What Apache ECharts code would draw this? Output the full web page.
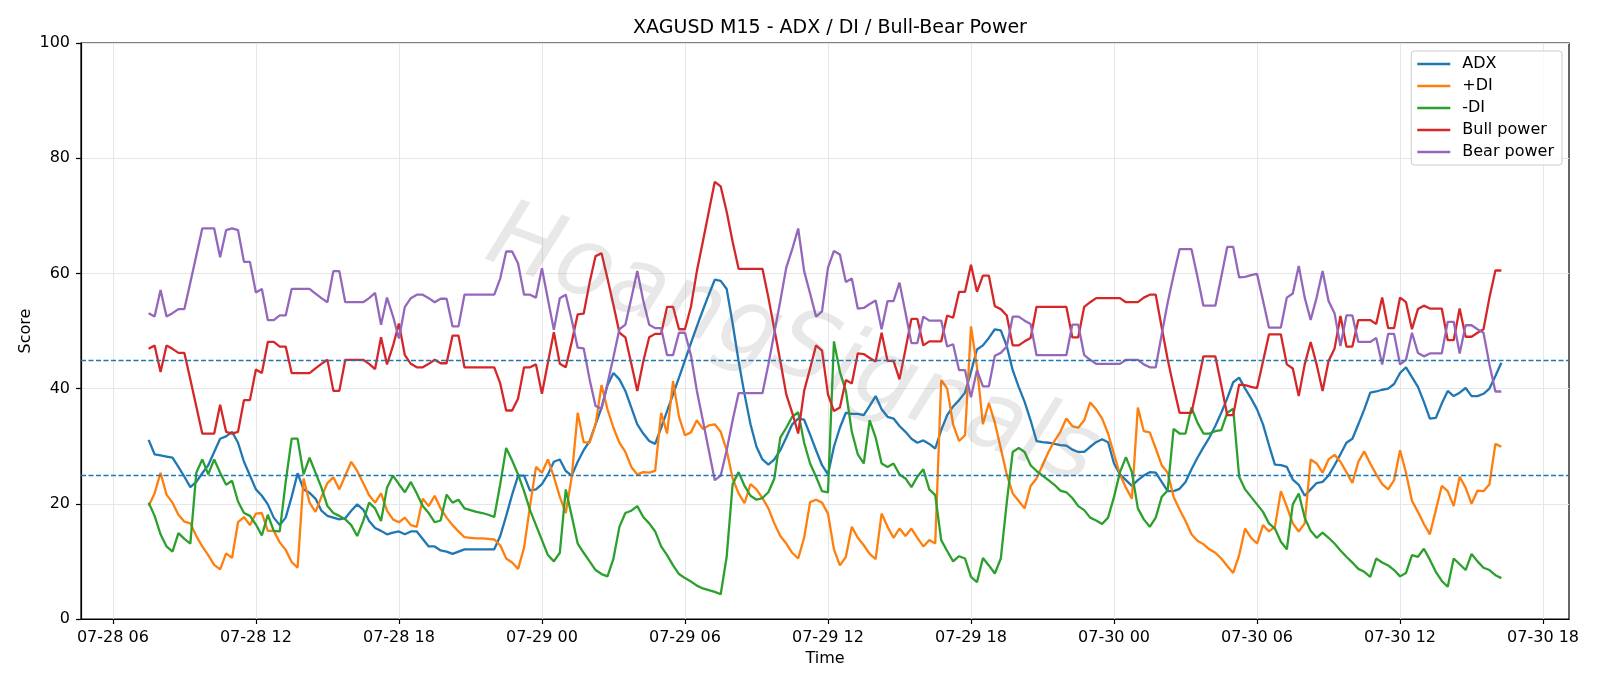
<!DOCTYPE html>
<html>
<head>
<meta charset="utf-8">
<title>XAGUSD M15 - ADX / DI / Bull-Bear Power</title>
<script src="https://cdn.jsdelivr.net/npm/echarts@6.0.0/dist/echarts.min.js"></script>
<style>
  html, body { margin: 0; padding: 0; background: #fff; }
  #chart { width: 1600px; height: 686px; }
</style>
</head>
<body>
<div id="chart"></div>
<script>
  // time axis: hours counted from 07-28 00:00, one bar = 15 minutes
  const startHour = 7.5
  const stepHour = 0.25
  const tickHours = [6, 12, 18, 24, 30, 36, 42, 48, 54, 60, 66]
  const tickLabels = ['07-28 06', '07-28 12', '07-28 18', '07-29 00', '07-29 06', '07-29 12',
    '07-29 18', '07-30 00', '07-30 06', '07-30 12', '07-30 18']
  const yTicks = [0, 20, 40, 60, 80, 100]
  const levels = [25, 45]

  const adx = [
    31.1, 28.6, 28.4, 28.2, 28.0, 26.4, 24.7, 22.9, 23.8, 25.3, 26.7, 29.0, 31.3, 31.7, 32.5, 30.6, 27.3, 24.9, 22.5, 21.4,
    19.9, 17.6, 16.3, 17.6, 21.2, 25.3, 22.5, 21.9, 20.9, 18.8, 17.9, 17.6, 17.3, 17.5, 18.8, 19.9, 19.0, 17.0,
    15.8, 15.3, 14.7, 15.0, 15.2, 14.7, 15.2, 15.2, 13.9, 12.6, 12.6, 11.9, 11.7, 11.3, 11.7, 12.1, 12.1, 12.1, 12.1, 12.1,
    12.1, 14.4, 17.9, 21.6, 24.9, 24.9, 22.3, 22.5, 23.4, 25.1, 27.3, 27.7, 25.7, 24.9, 27.3, 29.3, 30.9, 33.8, 36.7,
    40.6, 42.7, 41.6, 39.6, 36.7, 33.8, 32.2, 30.9, 30.4, 33.2, 36.1, 39.0, 41.9, 44.9, 47.9, 50.8, 53.6, 56.3, 58.9, 58.7,
    57.3, 51.3, 44.8, 39.0, 33.8, 29.9, 27.7, 26.8, 27.7, 29.3, 31.5, 33.8, 34.8, 34.6, 32.0, 29.3, 26.7, 25.1,
    29.9, 33.2, 35.8, 35.6, 35.6, 35.4, 37.0, 38.7, 36.4, 35.1, 34.8, 33.5, 32.5, 31.3, 30.6, 31.0, 30.4, 29.6, 32.8, 35.4,
    36.9, 38.0, 39.3, 42.9, 46.8, 47.5, 48.8, 50.3, 50.1, 47.4, 43.2, 40.3, 37.7, 34.5, 30.9, 30.7, 30.6, 30.4, 30.2,
    30.1, 29.4, 29.0, 29.0, 29.9, 30.7, 31.2, 30.7, 27.0, 25.1, 24.1, 23.1, 24.1, 24.9, 25.5, 25.4, 23.8, 22.2, 22.2, 22.6,
    23.8, 26.0, 28.0, 29.8, 31.5, 33.5, 35.8, 38.3, 41.1, 41.9, 40.0, 38.3, 36.4, 33.8, 30.2, 26.8, 26.7,
    26.4, 24.2, 23.3, 21.4, 22.5, 23.6, 23.8, 24.9, 26.7, 28.6, 30.6, 31.3, 33.8, 36.4, 39.3, 39.5, 39.8, 40.0, 40.8, 42.7,
    43.7, 42.0, 40.3, 37.7, 34.8, 34.9, 37.4, 39.6, 38.7, 39.3, 40.1, 38.7, 38.7, 39.1, 40.0, 42.2, 44.5
  ]
  const plusDi = [
    19.6, 21.8, 25.4, 21.6, 20.2, 18.1, 16.9, 16.6, 14.4, 12.6, 11.1, 9.4, 8.6, 11.4, 10.6, 16.8, 17.7, 16.3, 18.3, 18.4,
    15.3, 15.3, 13.3, 12.0, 9.9, 8.9, 24.4, 20.2, 18.6, 21.2, 23.6, 24.6, 22.5, 24.9, 27.3, 25.7, 23.6, 21.5,
    20.2, 21.8, 18.8, 17.3, 16.8, 17.6, 16.3, 16.0, 20.9, 19.6, 21.4, 19.2, 17.6, 16.3, 15.2, 14.2, 14.1, 14.0, 14.0, 13.9,
    13.8, 12.8, 10.5, 9.8, 8.7, 12.4, 19.6, 26.4, 25.4, 27.7, 24.7, 21.2, 18.4, 24.7, 35.8, 30.7, 30.6, 33.8, 40.6,
    36.4, 33.2, 30.6, 29.0, 26.4, 25.1, 25.5, 25.4, 25.7, 35.8, 32.2, 41.3, 35.1, 31.9, 32.4, 34.5, 33.0, 33.6, 33.8, 32.5,
    29.3, 24.4, 21.8, 20.1, 23.4, 22.5, 21.0, 19.2, 16.6, 14.4, 13.1, 11.5, 10.5, 14.1, 20.3, 20.7, 20.2, 18.3,
    12.1, 9.3, 10.8, 16.0, 14.1, 12.8, 11.3, 10.4, 18.3, 16.0, 14.1, 15.7, 14.4, 15.7, 14.1, 12.6, 13.7, 13.1, 41.5, 40.0,
    33.8, 30.9, 31.9, 50.8, 43.8, 33.8, 37.5, 34.1, 29.6, 25.1, 21.8, 20.5, 19.2, 23.1, 24.4, 26.7, 29.0, 30.9, 32.5,
    34.8, 33.5, 33.2, 34.5, 37.6, 36.4, 34.8, 32.2, 28.6, 25.1, 22.8, 20.9, 36.7, 32.6, 32.4, 29.6, 26.7, 25.4, 21.2, 19.0,
    17.0, 14.7, 13.6, 13.0, 12.1, 11.5, 10.5, 9.2, 8.0, 11.1, 15.7, 14.1, 13.1, 16.3, 15.2, 16.0, 22.2,
    19.5, 16.6, 15.2, 16.6, 27.7, 27.0, 25.4, 27.7, 28.5, 27.3, 25.5, 23.6, 27.3, 29.1, 27.0, 25.1, 23.4, 22.5, 24.1, 29.3,
    25.4, 20.5, 18.6, 16.5, 14.7, 18.9, 23.1, 22.2, 19.6, 24.7, 22.8, 20.0, 22.3, 22.2, 23.4, 30.4, 29.9
  ]
  const minusDi = [
    20.2, 17.9, 14.7, 12.6, 11.7, 14.9, 13.9, 13.1, 25.4, 27.7, 25.1, 27.7, 25.4, 23.3, 24.0, 20.4, 18.4, 17.9, 16.4, 14.5,
    18.1, 15.3, 15.2, 23.8, 31.3, 31.3, 25.1, 28.0, 25.4, 22.8, 19.6, 18.4, 17.9, 17.3, 16.3, 14.4, 17.0, 20.2,
    19.2, 17.0, 22.8, 24.9, 23.4, 22.0, 23.8, 21.8, 19.6, 18.4, 16.8, 17.1, 21.6, 20.2, 20.7, 19.2, 18.9, 18.6, 18.4, 18.1,
    17.7, 23.4, 29.7, 27.5, 25.1, 22.2, 18.9, 16.3, 13.7, 11.1, 10.0, 11.5, 22.5, 17.9, 13.1, 11.5, 10.0, 8.5, 7.8,
    7.4, 10.5, 16.0, 18.4, 18.8, 19.6, 17.7, 16.6, 15.2, 12.6, 11.1, 9.3, 7.8, 7.1, 6.5, 5.8, 5.3, 5.0, 4.7, 4.3,
    10.8, 23.4, 25.5, 23.1, 21.4, 20.7, 21.0, 22.0, 24.4, 31.5, 33.2, 35.1, 35.9, 30.6, 27.0, 24.7, 22.2, 22.0,
    48.2, 42.9, 39.6, 32.5, 28.6, 27.0, 34.5, 31.5, 27.0, 26.4, 27.0, 25.1, 24.4, 22.9, 24.7, 26.0, 22.5, 21.5, 13.7, 11.8,
    10.0, 10.9, 10.5, 7.3, 6.4, 10.6, 9.3, 7.9, 10.5, 20.2, 29.0, 29.7, 29.0, 26.7, 25.7, 24.9, 24.1, 23.3, 22.3,
    22.0, 21.0, 19.6, 18.9, 17.6, 17.1, 16.5, 17.6, 21.2, 25.5, 28.1, 25.5, 19.2, 17.3, 16.0, 17.6, 21.2, 22.3, 33.0, 32.2,
    32.2, 36.7, 34.1, 32.2, 32.2, 32.6, 32.8, 35.8, 36.5, 24.7, 22.5, 21.2, 19.9, 18.6, 16.6, 15.7, 13.4,
    12.1, 19.9, 21.8, 17.6, 15.3, 14.1, 15.0, 14.1, 13.1, 11.9, 10.8, 9.8, 8.7, 8.2, 7.3, 10.5, 9.8, 9.3, 8.5, 7.4,
    8.0, 11.1, 10.8, 12.2, 10.3, 8.2, 6.6, 5.6, 10.5, 9.5, 8.5, 11.3, 10.0, 8.9, 8.5, 7.6, 7.1
  ]
  const bullPower = [
    46.9, 47.5, 42.9, 47.5, 46.9, 46.2, 46.2, 41.6, 36.9, 32.2, 32.2, 32.2, 37.2, 32.5, 32.2, 32.5, 38.0, 38.0, 43.3, 42.7,
    48.1, 48.1, 47.3, 47.3, 42.7, 42.7, 42.7, 42.7, 43.5, 44.3, 45.0, 39.6, 39.6, 45.0, 45.0, 45.0, 45.0, 44.3,
    43.4, 48.9, 44.2, 47.4, 51.3, 45.8, 44.3, 43.7, 43.7, 44.3, 45.0, 44.4, 44.4, 49.2, 49.2, 43.7, 43.7, 43.7, 43.7, 43.7,
    43.7, 40.9, 36.2, 36.2, 38.3, 43.7, 43.7, 44.2, 39.1, 44.5, 49.8, 44.3, 43.7, 48.1, 52.9, 53.0, 58.4, 63.0, 63.5,
    59.1, 54.5, 49.7, 48.9, 44.3, 39.6, 44.7, 48.9, 49.5, 49.5, 54.2, 54.2, 50.3, 50.3, 54.2, 60.4, 65.5, 70.7, 75.9, 75.1,
    70.7, 65.5, 60.8, 60.8, 60.8, 60.8, 60.8, 55.8, 50.3, 44.8, 39.0, 35.8, 32.2, 39.6, 43.5, 47.5, 46.6, 39.0,
    36.1, 36.7, 41.5, 40.9, 46.1, 46.0, 45.3, 44.7, 49.7, 44.8, 44.8, 41.6, 46.8, 52.1, 52.1, 47.5, 48.2, 48.2, 48.2, 52.7,
    52.3, 56.8, 56.8, 61.5, 56.8, 59.6, 59.6, 54.3, 53.8, 52.7, 47.5, 47.5, 48.2, 48.8, 54.2, 54.2, 54.2, 54.2, 54.2,
    54.2, 48.9, 48.9, 54.2, 55.0, 55.7, 55.7, 55.7, 55.7, 55.7, 55.0, 55.0, 55.0, 55.8, 56.3, 56.3, 50.6, 45.1, 40.3, 35.8,
    35.8, 35.8, 40.6, 45.6, 45.6, 45.6, 40.6, 35.4, 35.4, 40.7, 40.6, 40.3, 40.1, 44.7, 49.4, 49.4, 49.4,
    44.2, 43.5, 38.7, 44.2, 48.1, 44.2, 39.6, 44.8, 46.9, 52.6, 47.3, 47.3, 51.9, 51.9, 51.9, 51.2, 55.8, 50.5, 50.5, 55.8,
    55.0, 50.3, 53.8, 54.4, 53.9, 53.9, 53.9, 48.4, 48.4, 53.9, 49.0, 49.0, 49.7, 50.3, 55.8, 60.5, 60.5
  ]
  const bearPower = [
    53.1, 52.5, 57.1, 52.5, 53.1, 53.8, 53.8, 58.4, 63.1, 67.8, 67.8, 67.8, 62.8, 67.5, 67.8, 67.5, 62.0, 62.0, 56.7, 57.3,
    51.9, 51.9, 52.7, 52.7, 57.3, 57.3, 57.3, 57.3, 56.5, 55.7, 55.0, 60.4, 60.4, 55.0, 55.0, 55.0, 55.0, 55.7,
    56.6, 51.1, 55.8, 52.6, 48.7, 54.2, 55.7, 56.3, 56.3, 55.7, 55.0, 55.6, 55.6, 50.8, 50.8, 56.3, 56.3, 56.3, 56.3, 56.3,
    56.3, 59.1, 63.8, 63.8, 61.7, 56.3, 56.3, 55.8, 60.9, 55.5, 50.2, 55.7, 56.3, 51.9, 47.1, 47.0, 41.6, 37.0, 36.5,
    40.9, 45.5, 50.3, 51.1, 55.7, 60.4, 55.3, 51.1, 50.5, 50.5, 45.8, 45.8, 49.7, 49.7, 45.8, 39.6, 34.5, 29.3, 24.1, 24.9,
    29.3, 34.5, 39.2, 39.2, 39.2, 39.2, 39.2, 44.2, 49.7, 55.2, 61.0, 64.2, 67.8, 60.4, 56.5, 52.5, 53.4, 61.0,
    63.9, 63.3, 58.5, 59.1, 53.9, 54.0, 54.7, 55.3, 50.3, 55.2, 55.2, 58.4, 53.2, 47.9, 47.9, 52.5, 51.8, 51.8, 51.8, 47.3,
    47.7, 43.2, 43.2, 38.5, 43.2, 40.4, 40.4, 45.7, 46.2, 47.3, 52.5, 52.5, 51.8, 51.2, 45.8, 45.8, 45.8, 45.8, 45.8,
    45.8, 51.1, 51.1, 45.8, 45.0, 44.3, 44.3, 44.3, 44.3, 44.3, 45.0, 45.0, 45.0, 44.2, 43.7, 43.7, 49.4, 54.9, 59.7, 64.2,
    64.2, 64.2, 59.4, 54.4, 54.4, 54.4, 59.4, 64.6, 64.6, 59.3, 59.4, 59.7, 59.9, 55.3, 50.6, 50.6, 50.6,
    55.8, 56.5, 61.3, 55.8, 51.9, 55.8, 60.4, 55.2, 53.1, 47.4, 52.7, 52.7, 48.1, 48.1, 48.1, 48.8, 44.2, 49.5, 49.5, 44.2,
    45.0, 49.7, 46.2, 45.6, 46.1, 46.1, 46.1, 51.6, 51.6, 46.1, 51.0, 51.0, 50.3, 49.7, 44.2, 39.5, 39.5
  ]

  const times = adx.map((v, i) => startHour + i * stepHour)
  const span = times[times.length - 1] - times[0]
  const font = 'DejaVu Sans'
  const colors = ['#1f77b4', '#ff7f0e', '#2ca02c', '#d62728', '#9467bd']

  function pairs (vals) {
    return vals.map((v, i) => [times[i], v])
  }

  function lineSeries (name, vals, color) {
    return {
      name: name,
      type: 'line',
      symbol: 'none',
      data: pairs(vals),
      lineStyle: { width: 2.3, color: color },
      itemStyle: { color: color },
      emphasis: { disabled: true }
    }
  }

  const chart = echarts.init(document.getElementById('chart'))
  const series = [
    lineSeries('ADX', adx, colors[0]),
    lineSeries('+DI', plusDi, colors[1]),
    lineSeries('-DI', minusDi, colors[2]),
    lineSeries('Bull power', bullPower, colors[3]),
    lineSeries('Bear power', bearPower, colors[4])
  ]
  // 25 / 45 reference levels
  series[0].markLine = {
    silent: true,
    symbol: ['none', 'none'],
    label: { show: false },
    lineStyle: { color: '#1f77b4', type: [5, 2.5], width: 1.3 },
    data: levels.map(l => ({ yAxis: l }))
  }

  chart.setOption({
    animation: false,
    backgroundColor: '#ffffff',
    textStyle: { fontFamily: font },
    title: {
      text: 'XAGUSD M15 - ADX / DI / Bull-Bear Power',
      left: 825,
      textAlign: 'center',
      top: 14,
      textStyle: { fontFamily: font, fontSize: 19, fontWeight: 'normal', color: '#000' }
    },
    grid: {
      left: 81,
      right: 31,
      top: 43,
      bottom: 67,
      show: true,
      borderColor: '#000',
      borderWidth: 1.2
    },
    legend: {
      orient: 'vertical',
      right: 38,
      top: 51,
      icon: 'rect',
      itemWidth: 33,
      itemHeight: 2.4,
      itemGap: 6,
      padding: [5, 8, 5, 6],
      backgroundColor: 'rgba(255,255,255,0.8)',
      borderColor: '#cccccc',
      borderWidth: 1,
      borderRadius: 3,
      textStyle: { fontFamily: font, fontSize: 16, color: '#000', padding: [0, 0, 0, 7] },
      data: ['ADX', '+DI', '-DI', 'Bull power', 'Bear power']
    },
    xAxis: {
      type: 'value',
      min: times[0] - span * 0.05,
      max: times[times.length - 1] + span * 0.05,
      name: 'Time',
      nameLocation: 'middle',
      nameGap: 29,
      nameTextStyle: { fontFamily: font, fontSize: 16, color: '#000' },
      axisLine: { show: true, lineStyle: { color: '#000', width: 1.2 } },
      axisTick: { show: true, length: 5, customValues: tickHours, lineStyle: { color: '#000', width: 1.2 } },
      axisLabel: {
        customValues: tickHours,
        margin: 11,
        fontFamily: font,
        fontSize: 16,
        color: '#000',
        formatter: v => tickLabels[tickHours.indexOf(Math.round(v))]
      },
      splitLine: { show: true, lineStyle: { color: '#e6e6e6', width: 1 } }
    },
    yAxis: {
      type: 'value',
      min: yTicks[0],
      max: yTicks[yTicks.length - 1],
      interval: 20,
      name: 'Score',
      nameLocation: 'middle',
      nameGap: 47,
      nameMoveOverlap: false,
      nameTextStyle: { fontFamily: font, fontSize: 16, color: '#000' },
      axisLine: { show: true, lineStyle: { color: '#000', width: 1.2 } },
      axisTick: { show: true, length: 5, lineStyle: { color: '#000', width: 1.2 } },
      axisLabel: { margin: 11, fontFamily: font, fontSize: 16, color: '#000' },
      splitLine: { show: true, lineStyle: { color: '#e6e6e6', width: 1 } }
    },
    graphic: [{
      type: 'text',
      x: 792,
      y: 348,
      rotation: -0.36,
      silent: true,
      z: 100,
      style: {
        text: 'HoangSignals',
        fontFamily: "'DejaVu Sans ExtraLight', 'DejaVu Sans'",
        fontStyle: 'italic',
        fontWeight: 200,
        fontSize: 94,
        fill: 'rgba(110,110,110,0.16)',
        align: 'center',
        verticalAlign: 'middle'
      }
    }],
    series: series
  })
</script>
</body>
</html>
